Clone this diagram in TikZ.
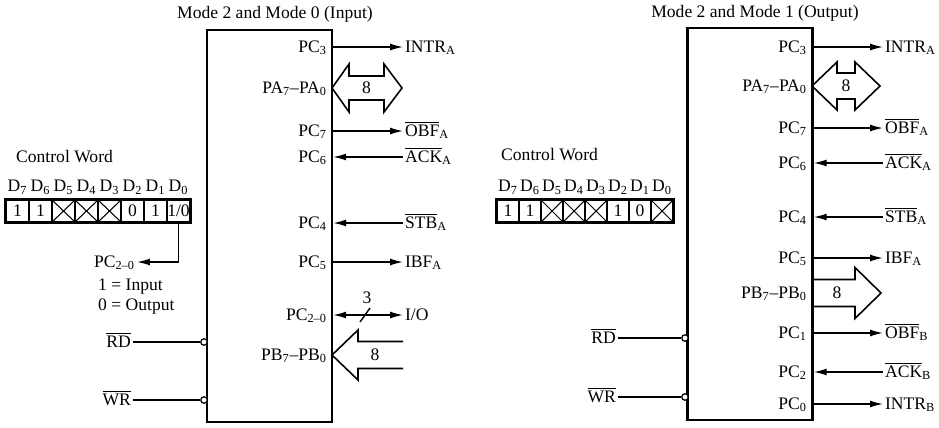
\documentclass[tikz,border=0pt]{standalone}
\usepackage{fontspec}
\setmainfont{Liberation Serif}
\usepackage{tikz}
\usetikzlibrary{arrows.meta, positioning, calc}

\newcommand{\sigbar}[1]{$\overline{\hbox{#1}}$}

\begin{document}
\begin{tikzpicture}[
    x=0.02cm, y=-0.02cm,
    >={Latex[length=2.6mm,width=1.4mm]},
    every node/.style={font=\fontsize{10}{11.5}\selectfont},
    chip/.style={draw, line width=1.4pt, minimum width=2.5cm, minimum height=7.84cm, inner sep=0},
    lbl/.style={inner sep=1pt, text height=1.7ex, text depth=0.45ex},
    sig/.style={line width=0.8pt},
    bus/.style={line width=0.9pt, line join=miter},
    bubble/.style={circle, draw, line width=0.7pt, fill=white, inner sep=0, minimum size=0.13cm},
    cell/.style={draw, line width=0.6pt, minimum width=0.46cm, minimum height=0.44cm, inner sep=0},
    cwframe/.style={line width=1.6pt}
]
\useasboundingbox (0,0) rectangle (939,427);

% -------- Positions --------
\def\lpin{329}   % inner labels, left chip
\def\lsig{403}   % outer labels, left chip
\def\rpin{809}   % inner labels, right chip
\def\rsig{883}   % outer labels, right chip

% -------- Titles --------
\node (titleL) at (275,14) {Mode 2 and Mode 0 (Input)};
\node (titleR) at (755,13) {Mode 2 and Mode 1 (Output)};

% -------- Chips --------
\node[chip] (chipL) at (269.5,226) {};
\node[chip] (chipR) at (750,224) {};

% ======== LEFT: Mode 2 and Mode 0 (Input) ========

% outputs
\foreach \y/\p/\s/\nm in {47/3/{INTR\textsubscript{A}}/intrA,
                          131/7/{\sigbar{OBF}\textsubscript{A}}/obfA,
                          262/5/{IBF\textsubscript{A}}/ibfA} {
    \node[lbl, anchor=east] (Lpc\p) at (\lpin,\y) {PC\textsubscript{\p}};
    \node[lbl, anchor=west] (L\nm) at (\lsig,\y) {\s};
    \draw[sig,->] (Lpc\p.east -| chipL.east) -- (L\nm);
}

% inputs
\foreach \y/\p/\s/\nm in {157/6/{\sigbar{ACK}\textsubscript{A}}/ackA,
                          223/4/{\sigbar{STB}\textsubscript{A}}/stbA} {
    \node[lbl, anchor=east] (Lpc\p) at (\lpin,\y) {PC\textsubscript{\p}};
    \node[lbl, anchor=west] (L\nm) at (\lsig,\y) {\s};
    \draw[sig,<-] (Lpc\p.east -| chipL.east) -- (L\nm);
}

% port A bus
\node[lbl, anchor=east] (LpaA) at (\lpin,88) {PA\textsubscript{7}--PA\textsubscript{0}};
\coordinate (LpaTip) at (332,88);
\draw[bus] (LpaTip) -- ++(17,-24) -- ++(0,12) -- ++(35,0) -- ++(0,-12) -- ++(18,24)
    -- ++(-18,24) -- ++(0,-12) -- ++(-35,0) -- ++(0,12) -- cycle;
\node (LpaW) at (366.5,88) {8};

% PC2-0 I/O
\node[lbl, anchor=east] (Lpc20) at (\lpin,315) {PC\textsubscript{2--0}};
\node[lbl, anchor=west] (Lio) at (\lsig,315) {I/O};
\draw[sig,<->] (Lpc20.east -| chipL.east) -- (Lio);
\coordinate (Lslash) at (365,315);
\draw[sig] ([shift={(-5,7)}]Lslash) -- ([shift={(5,-7)}]Lslash);
\node (Lthree) at (367,298) {3};

% port B bus (input)
\node[lbl, anchor=east] (LpbB) at (\lpin,355) {PB\textsubscript{7}--PB\textsubscript{0}};
\coordinate (LpbTip) at (332,355);
\draw[bus] (LpbTip) -- ++(26,-25) -- ++(0,11.5) -- ++(45,0);
\draw[bus] (LpbTip) -- ++(26,25) -- ++(0,-11.5) -- ++(45,0);
\node (LpbW) at (375,355) {8};

% RD, WR
\node[lbl, anchor=east] (Lrd) at (133,342) {\sigbar{RD}};
\node[lbl, anchor=east] (Lwr) at (133,400) {\sigbar{WR}};
\node[bubble] (LrdB) at (204,342) {};
\node[bubble] (LwrB) at (204,400) {};
\draw[sig] (Lrd) -- (LrdB);
\draw[sig] (Lwr) -- (LwrB);

% control word
\node[anchor=west] (cwtL) at (10,157) {Control Word};
\foreach \v/\d [count=\i] in {1/7,1/6,/5,/4,/3,0/2,1/1,{1/0}/0} {
    \node[cell] (cwL\i) at ({6+23*(\i-0.5)},211) {\v};
    \node (dL\i) at ({6+23*(\i-0.5)},187) {D\textsubscript{\d}};
}
\foreach \i in {3,4,5} {
    \draw[line width=0.6pt] (cwL\i.north west) -- (cwL\i.south east)
                            (cwL\i.north east) -- (cwL\i.south west);
}
\draw[cwframe] (cwL1.north west) rectangle (cwL8.south east);

\node[lbl, anchor=east] (Lsel) at (137,262) {PC\textsubscript{2--0}};
\draw[sig,->] (cwL8.south) |- (Lsel);
\node[anchor=west] (Lin) at (92,287) {1 = Input};
\node[anchor=west] (Lout) at (92,307) {0 = Output};

% ======== RIGHT: Mode 2 and Mode 1 (Output) ========

% outputs
\foreach \y/\p/\s/\nm in {47/3/{INTR\textsubscript{A}}/intrA,
                          128/7/{\sigbar{OBF}\textsubscript{A}}/obfA,
                          258/5/{IBF\textsubscript{A}}/ibfA,
                          333/1/{\sigbar{OBF}\textsubscript{B}}/obfB,
                          404/0/{INTR\textsubscript{B}}/intrB} {
    \node[lbl, anchor=east] (Rpc\p) at (\rpin,\y) {PC\textsubscript{\p}};
    \node[lbl, anchor=west] (R\nm) at (\rsig,\y) {\s};
    \draw[sig,->] (Rpc\p.east -| chipR.east) -- (R\nm);
}

% inputs
\foreach \y/\p/\s/\nm in {163/6/{\sigbar{ACK}\textsubscript{A}}/ackA,
                          217/4/{\sigbar{STB}\textsubscript{A}}/stbA,
                          372/2/{\sigbar{ACK}\textsubscript{B}}/ackB} {
    \node[lbl, anchor=east] (Rpc\p) at (\rpin,\y) {PC\textsubscript{\p}};
    \node[lbl, anchor=west] (R\nm) at (\rsig,\y) {\s};
    \draw[sig,<-] (Rpc\p.east -| chipR.east) -- (R\nm);
}

% port A bus
\node[lbl, anchor=east] (RpaA) at (\rpin,86) {PA\textsubscript{7}--PA\textsubscript{0}};
\coordinate (RpaTip) at (812,86);
\draw[bus] (RpaTip) -- ++(25,-24) -- ++(0,11) -- ++(18,0) -- ++(0,-11) -- ++(25,24)
    -- ++(-25,24) -- ++(0,-11) -- ++(-18,0) -- ++(0,11) -- cycle;
\node (RpaW) at (846,86) {8};

% port B bus (output)
\node[lbl, anchor=east] (RpbB) at (\rpin,293) {PB\textsubscript{7}--PB\textsubscript{0}};
\coordinate (RpbTip) at (812,293);
\draw[bus] (RpbTip) ++(0,-13.5) -- ++(43,0) -- ++(0,-12) -- ++(26,25.5)
    -- ++(-26,25.5) -- ++(0,-12) -- ++(-43,0);
\node (RpbW) at (837,293) {8};

% RD, WR
\node[lbl, anchor=east] (Rrd) at (618,338) {\sigbar{RD}};
\node[lbl, anchor=east] (Rwr) at (618,397) {\sigbar{WR}};
\node[bubble] (RrdB) at (685,338) {};
\node[bubble] (RwrB) at (685,397) {};
\draw[sig] (Rrd) -- (RrdB);
\draw[sig] (Rwr) -- (RwrB);

% control word
\node[anchor=west] (cwtR) at (495,155) {Control Word};
\foreach \v/\d [count=\i] in {1/7,1/6,/5,/4,/3,1/2,0/1,/0} {
    \node[cell, minimum width=0.44cm] (cwR\i) at ({497+22*(\i-0.5)},211) {\v};
    \node (dR\i) at ({497+22*(\i-0.5)},187) {D\textsubscript{\d}};
}
\foreach \i in {3,4,5,8} {
    \draw[line width=0.6pt] (cwR\i.north west) -- (cwR\i.south east)
                            (cwR\i.north east) -- (cwR\i.south west);
}
\draw[cwframe] (cwR1.north west) rectangle (cwR8.south east);

\end{tikzpicture}
\end{document}
